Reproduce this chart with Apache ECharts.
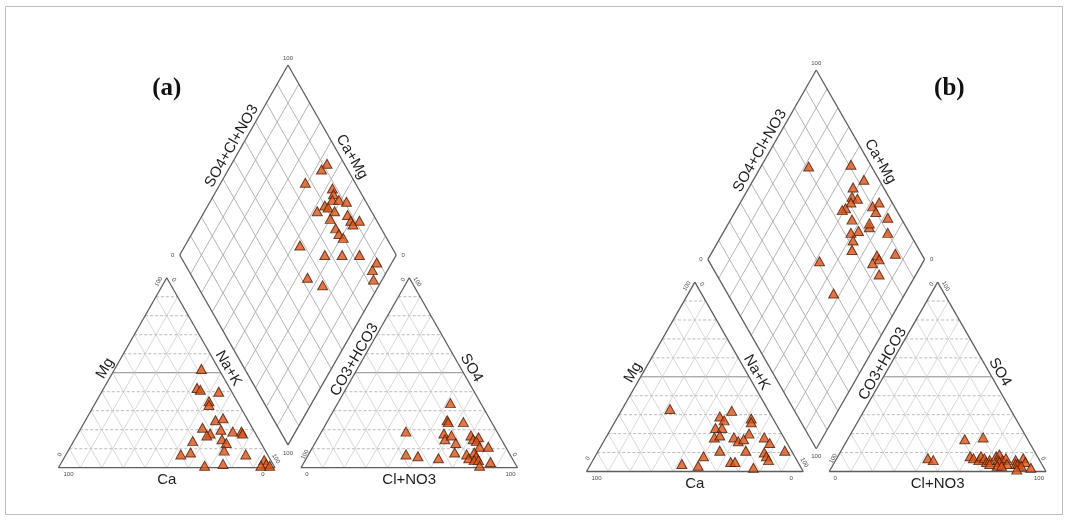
<!DOCTYPE html>
<html>
<head>
<meta charset="utf-8">
<script src="https://cdn.jsdelivr.net/npm/echarts@6/dist/echarts.min.js"></script>
<style>
  html, body { margin: 0; padding: 0; background: #ffffff; }
  #chart { width: 1069px; height: 521px; }
</style>
</head>
<body>
<div id="chart"></div>
<script>
// ---- Sample data (percent of meq) ----
// Cation triangle: [Ca, Mg]; Na+K is the remainder
const cationsA = [[8,52],[15,42],[14,41],[6,40],[13,35],[14,33],[15,25],[11,26],[23,21],[21,18],[23,17],[15,20],[17,15],[10,19],[6,19],[6,18],[31,14],[16,13],[40,7],[35,8],[19,9],[10,7],[32,1],[23,2],[3,4],[3,2],[6,1],[2,1]];
// Anion triangle: [Cl+NO3, SO4]; CO3+HCO3 is the remainder
const anionsA = [[52,34],[55,25],[56,24],[63,24],[39,19],[57,18],[59,15],[61,17],[65,13],[70,17],[72,15],[74,16],[74,14],[77,11],[81,11],[45,7],[51,6],[61,5],[67,8],[73,7],[75,5],[76,8],[78,6],[78,4],[80,4],[86,3],[82,1]];
// Diamond: [Ca+Mg, SO4+Cl+NO3]
const diamondA = [[56,92],[57,88],[61,77],[47,88],[45,87],[44,85],[41,88],[37,91],[46,80],[44,81],[40,83],[48,75],[33,88],[30,88],[26,92],[28,88],[40,79],[35,79],[32,79],[29,80],[47,58],[33,67],[25,75],[17,83],[7,89],[7,85],[4,83],[35,53],[26,58]];

const cationsB = [[45,33],[17,32],[24,29],[23,27],[29,23],[26,23],[32,18],[29,19],[10,28],[11,26],[15,20],[23,18],[22,16],[19,17],[9,18],[8,15],[21,11],[33,11],[42,8],[47,3],[54,4],[31,5],[29,5],[13,10],[13,8],[13,6],[3,11],[22,2]];
const anionsB = [[54,17],[62,18],[42,7],[45,6],[61,8],[63,7],[66,6],[66,8],[68,7],[70,5],[71,6],[73,8],[74,9],[75,6],[77,6],[78,7],[76,5],[80,4],[76,3],[78,3],[83,6],[84,4],[85,4],[86,7],[88,5],[87,3],[86,1],[92,2],[72,4]];
const diamondB = [[78,71],[59,91],[49,93],[52,86],[50,83],[47,85],[49,81],[50,77],[51,75],[38,90],[36,94],[35,90],[28,94],[44,77],[34,83],[35,84],[38,77],[41,73],[24,90],[38,72],[36,69],[15,88],[23,79],[21,79],[23,75],[17,75],[48,51],[33,49]];

const panelTitles = ['(a)', '(b)'];
const axisNames = { ca: 'Ca', mg: 'Mg', nak: 'Na+K', cl: 'Cl+NO3', hco3: 'CO3+HCO3', so4: 'SO4', anion: 'SO4+Cl+NO3', cation: 'Ca+Mg' };
const tickMin = '0', tickMax = '100';
const gridSteps = [10, 20, 30, 40, 50, 60, 70, 80, 90];

// ---- Piper geometry (unit triangle side = 1) ----
const GAP = 0.12;
const H = Math.sqrt(3) / 2;
const W = 2 + GAP;
const HT = W * H;

function cationXY(p) { const ca = p[0], mg = p[1]; const nak = 100 - ca - mg; return [(nak + 0.5 * mg) / 100, H * mg / 100]; }
function anionXY(p) { const cl = p[0], so4 = p[1]; return [1 + GAP + (cl + 0.5 * so4) / 100, H * so4 / 100]; }
function diamondXY(p) { const s = p[0] / 100, t = p[1] / 100; return [1 + GAP / 2 + 0.5 * (t - s), H * (GAP + s + t)]; }

const DB = [1 + GAP / 2, GAP * H];
const DL = [0.5 + GAP / 2, H * (1 + GAP)];
const DT = [1 + GAP / 2, H * (2 + GAP)];
const DR = [1.5 + GAP / 2, H * (1 + GAP)];
const OX = 1 + GAP;

// line kinds: 0 outline, 1 triangle diagonal, 2 triangle horizontal, 3 triangle mid line, 4 diamond grid
const LINE_STYLES = [
  { c: '#5e5e5e', w: 1.3 },
  { c: '#cfcfcf', w: 0.8 },
  { c: '#a8a8a8', w: 0.8, d: [3, 2] },
  { c: '#8a8a8a', w: 1.0 },
  { c: '#acacac', w: 0.9 }
];

function buildSegments() {
  const segs = [];
  const add = (a, b, k) => segs.push([a[0], a[1], b[0], b[1], k]);
  gridSteps.forEach(v => {
    const f = v / 100;
    [0, OX].forEach(ox => {
      add([ox + 0.5 * f, H * f], [ox + 1 - 0.5 * f, H * f], v === 50 ? 3 : 2);
      add([ox + f, 0], [ox + 0.5 * f, H * f], 1);
      add([ox + f, 0], [ox + f + 0.5 * (1 - f), H * (1 - f)], 1);
    });
    // diamond: constant Ca+Mg and constant SO4+Cl+NO3
    const a1 = diamondXY([v, 0]), b1 = diamondXY([v, 100]);
    const a2 = diamondXY([0, v]), b2 = diamondXY([100, v]);
    add(a1, b1, 4);
    add(a2, b2, 4);
  });
  [0, OX].forEach(ox => {
    add([ox, 0], [ox + 1, 0], 0);
    add([ox, 0], [ox + 0.5, H], 0);
    add([ox + 1, 0], [ox + 0.5, H], 0);
  });
  add(DB, DL, 0); add(DL, DT, 0); add(DT, DR, 0); add(DR, DB, 0);
  return segs;
}

function edgePt(p0, p1, t, d, nx, ny) {
  return [p0[0] + t * (p1[0] - p0[0]) + d * nx, p0[1] + t * (p1[1] - p0[1]) + d * ny];
}

const FONT = 'Liberation Sans, Arial, sans-serif';

function buildTexts(titlePos, title) {
  const big = (text, pos, rot) => ({ text, pos, rot, size: 15, color: '#1e1e1e', family: FONT });
  const tick = (text, pos, dx, dy, rot) => ({ text, pos, dx, dy, rot, size: 6, color: '#4a4a4a', family: FONT });
  const L0 = [0, 0], L1 = [1, 0], LA = [0.5, H];
  const R0 = [OX, 0], R1 = [OX + 1, 0], RA = [OX + 0.5, H];
  return [
    big(axisNames.ca, [0.5, -0.056], 0),
    big(axisNames.cl, [OX + 0.5, -0.056], 0),
    big(axisNames.mg, edgePt(L0, LA, 0.5, 0.04, -H, 0.5), 60),
    big(axisNames.nak, edgePt(L1, LA, 0.5, 0.04, H, 0.5), -60),
    big(axisNames.hco3, edgePt(R0, RA, 0.55, 0.032, -H, 0.5), 60),
    big(axisNames.so4, edgePt(R1, RA, 0.5, 0.043, H, 0.5), -60),
    big(axisNames.anion, edgePt(DL, DT, 0.55, 0.04, -H, 0.5), 60),
    big(axisNames.cation, edgePt(DR, DT, 0.49, 0.046, H, 0.5), -60),
    tick(tickMax, DT, 0, -7, 0),
    tick(tickMin, DL, -7, 0, 0),
    tick(tickMin, DR, 7, 0, 0),
    tick(tickMax, DB, 0, 8, 0),
    tick(tickMax, LA, -8, 4, 60),
    tick(tickMin, LA, 7, 2, -60),
    tick(tickMin, L0, 1.5, -13, 60),
    tick(tickMax, L0, 10, 7, 0),
    tick(tickMin, L1, -12, 7, 0),
    tick(tickMax, L1, 1, -9, -60),
    tick(tickMin, RA, -6, 2, 60),
    tick(tickMax, RA, 8, 4, -60),
    tick(tickMax, R0, 4, -13, 60),
    tick(tickMin, R0, 6, 7, 0),
    tick(tickMax, R1, -7, 7, 0),
    tick(tickMin, R1, -3, -13, -60),
    { text: title, pos: titlePos, rot: 0, size: 25, color: '#111', family: 'Liberation Serif, Times New Roman, serif', weight: 'bold' }
  ];
}

function segRender(params, api) {
  const a = api.coord([api.value(0), api.value(1)]);
  const b = api.coord([api.value(2), api.value(3)]);
  const st = LINE_STYLES[api.value(4)];
  return {
    type: 'line', silent: true,
    shape: { x1: a[0], y1: a[1], x2: b[0], y2: b[1] },
    style: { stroke: st.c, lineWidth: st.w, lineDash: st.d || null, fill: null }
  };
}

function textRenderer(list) {
  return function (params, api) {
    const it = list[params.dataIndex];
    const p = api.coord([api.value(0), api.value(1)]);
    return {
      type: 'text', silent: true,
      x: p[0] + (it.dx || 0), y: p[1] + (it.dy || 0),
      rotation: (it.rot || 0) * Math.PI / 180,
      style: {
        text: it.text, fill: it.color, fontSize: it.size, fontFamily: it.family,
        fontWeight: it.weight || 'normal', align: 'center', verticalAlign: 'middle'
      }
    };
  };
}

const segments = buildSegments();
const panels = [
  { cat: cationsA, an: anionsA, dia: diamondA, title: panelTitles[0], titlePos: [0.5, 1.727] },
  { cat: cationsB, an: anionsB, dia: diamondB, title: panelTitles[1], titlePos: [1.674, 1.752] }
];

const marker = {
  type: 'scatter', symbol: 'triangle', symbolSize: [10, 9], clip: false, silent: true,
  itemStyle: { color: '#dc5418', borderColor: '#4e1d06', borderWidth: 1 }
};

const series = [];
panels.forEach((pn, k) => {
  series.push({ type: 'custom', xAxisIndex: k, yAxisIndex: k, renderItem: segRender, data: segments, silent: true, z: 1 });
  const pts = pn.cat.map(cationXY).concat(pn.an.map(anionXY), pn.dia.map(diamondXY));
  series.push(Object.assign({}, marker, { xAxisIndex: k, yAxisIndex: k, data: pts, z: 3 }));
  const texts = buildTexts(pn.titlePos, pn.title);
  series.push({ type: 'custom', xAxisIndex: k, yAxisIndex: k, renderItem: textRenderer(texts), data: texts.map(t => t.pos), silent: true, z: 4 });
});

const axisBase = { type: 'value', show: false, min: 0 };
const chart = echarts.init(document.getElementById('chart'));
chart.setOption({
  animation: false,
  backgroundColor: '#ffffff',
  grid: [
    { left: 58.5, top: 65, width: 459, height: 402.7 },
    { left: 586.5, top: 70, width: 459.5, height: 401.5 }
  ],
  xAxis: [Object.assign({}, axisBase, { gridIndex: 0, max: W }), Object.assign({}, axisBase, { gridIndex: 1, max: W })],
  yAxis: [Object.assign({}, axisBase, { gridIndex: 0, max: HT }), Object.assign({}, axisBase, { gridIndex: 1, max: HT })],
  graphic: [{
    type: 'rect', silent: true,
    shape: { x: 5.5, y: 6.5, width: 1057, height: 508 },
    style: { fill: 'none', stroke: '#bdbdbd', lineWidth: 1 }
  }],
  series: series
});
</script>
</body>
</html>
